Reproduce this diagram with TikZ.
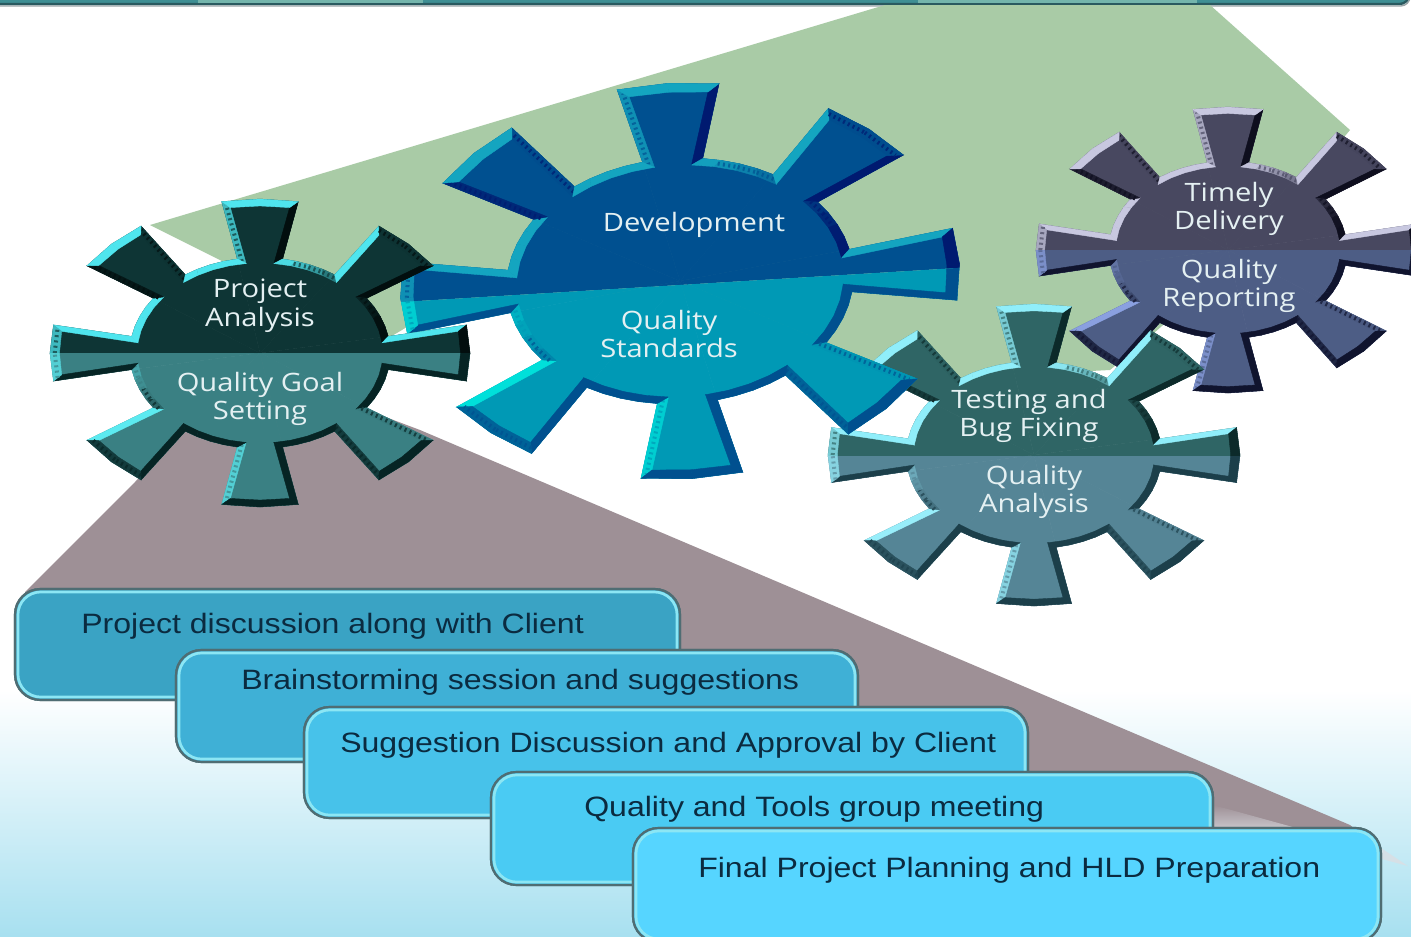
\documentclass[tikz,border=0pt]{standalone}
\usepackage{fontspec}
\usetikzlibrary{calc}
\setmainfont{Liberation Sans}
\newfontfamily\gearfont[FakeStretch=1.15]{Open Sans}
\newfontfamily\boxfont[FakeStretch=1.145]{Liberation Sans}
\definecolor{greenbg}{HTML}{A9CBA6}
\definecolor{graybg}{HTML}{9E9096}
\definecolor{graysoft}{HTML}{C9C6CC}
\definecolor{tailgray}{HTML}{D6E0E6}
\definecolor{skyb}{HTML}{A8E0F0}
\definecolor{barline}{HTML}{2A5A60}
\definecolor{barfill}{HTML}{3F8F94}
\definecolor{barhi}{HTML}{74B5AC}
\definecolor{barshadow}{HTML}{9AA5A8}
\definecolor{boxline}{HTML}{4F6D73}
\definecolor{boxlight}{HTML}{8CE6F4}
\definecolor{boxtext}{HTML}{0B2B40}
\definecolor{geartext}{HTML}{E4F0F2}
\definecolor{boxA}{HTML}{3AA3C4}
\definecolor{boxB}{HTML}{3FB0D6}
\definecolor{boxC}{HTML}{47C2EA}
\definecolor{boxD}{HTML}{4ACBF3}
\definecolor{boxE}{HTML}{56D5FF}
% gear colours: F face, L light bevel, D dark bevel; T top half, B bottom half
\definecolor{aFT}{HTML}{0E3535}\definecolor{aLT}{HTML}{4FE5EE}\definecolor{aDT}{HTML}{020E0E}
\definecolor{aFB}{HTML}{3A8083}\definecolor{aLB}{HTML}{5CEAF0}\definecolor{aDB}{HTML}{062424}
\definecolor{bFT}{HTML}{005090}\definecolor{bLT}{HTML}{14A5C0}\definecolor{bDT}{HTML}{001A70}
\definecolor{bFB}{HTML}{0099B5}\definecolor{bLB}{HTML}{00E0DA}\definecolor{bDB}{HTML}{00508F}
\definecolor{cFT}{HTML}{2F6565}\definecolor{cLT}{HTML}{90EEFA}\definecolor{cDT}{HTML}{0C2A2A}
\definecolor{cFB}{HTML}{558596}\definecolor{cLB}{HTML}{98EEFA}\definecolor{cDB}{HTML}{1C3F4A}
\definecolor{dFT}{HTML}{484860}\definecolor{dLT}{HTML}{C8C8E0}\definecolor{dDT}{HTML}{0E0E1E}
\definecolor{dFB}{HTML}{4D5D85}\definecolor{dLB}{HTML}{8AA0E0}\definecolor{dDB}{HTML}{10142E}
\tikzset{
  gearlabel/.style={text=geartext,align=center,inner sep=0pt,font=\gearfont\fontsize{19}{21.6}\selectfont},
  boxlabel/.style={text=boxtext,anchor=west,inner sep=0pt,font=\boxfont\fontsize{21}{23}\selectfont},
  boxouter/.style={draw=boxline,line width=1.6pt,rounded corners=19pt},
  boxinner/.style={draw=boxlight,line width=2pt,rounded corners=17pt},
}
\newcommand{\bq}[5]{%
  \pgfmathsetmacro\bevS{max(-1,min(1,2*(cos(#1-125)-0.2)))}%
  \ifdim\bevS pt<0pt
    \pgfmathsetmacro\bevP{-100*\bevS}\colorlet{bc}{gD!\bevP!gF}\colorlet{sc}{gD}%
  \else
    \pgfmathsetmacro\bevP{100*\bevS}\colorlet{bc}{gL!\bevP!gF}\colorlet{sc}{gF}%
  \fi
  \fill[bc,draw=bc,line width=.3pt] (#2)--(#3)--(#4)--(#5)--cycle;
  \pgfmathparse{abs(\bevS)<.85 ? 1 : 0}%
  \ifnum\pgfmathresult=1
    \draw[sc!70!bc,line width=3pt,dash pattern=on 1.5pt off 2.5pt]
      ($(#2)!.5!(#5)$)--($(#3)!.5!(#4)$);
  \fi}
\newcommand{\gearhalf}{%
  \foreach \k in {0,...,7}{%
    \pgfmathsetmacro\a{90-45*\k}%
    \fill[gF,draw=gF,line width=.3pt] (0,0)--(\a+10:.62)--(\a+10.5:1)--(\a:1)--(\a-10.5:1)--(\a-10:.62)
      --(\a-16.25:.62)--(\a-22.5:.62)--(\a-28.75:.62)--(\a-35:.62)--cycle;
  }%
  \foreach \k in {0,...,7}{%
    \pgfmathsetmacro\a{90-45*\k}%
    \bq{\a+90}{\a+10:.62}{\a+10.5:1}{\a+8.5:.955}{\a+6.5:.585}%
    \bq{\a-90}{\a-10:.62}{\a-10.5:1}{\a-8.5:.955}{\a-6.5:.585}%
    \bq{\a}{\a+10.5:1}{\a:1}{\a:.955}{\a+8.5:.955}%
    \bq{\a}{\a:1}{\a-10.5:1}{\a-8.5:.955}{\a:.955}%
    \foreach \j in {0,1,2,3}{%
      \pgfmathsetmacro\aA{\a-10-6.25*\j}\pgfmathsetmacro\aB{\aA-6.25}%
      \pgfmathsetmacro\iA{\a-6.5-8*\j}\pgfmathsetmacro\iB{\iA-8}%
      \bq{(\aA+\aB)/2}{\aA:.62}{\aB:.62}{\iB:.585}{\iA:.585}%
    }%
  }%
}
% #1 cx, #2 cy, #3 rx, #4 ry, #5 rotation, #6 colour prefix, #7 split height (local)
\newcommand{\gear}[7]{%
  \begin{scope}[shift={(#1,#2)},rotate=#5,x=#3*.75pt,y=#4*.75pt]
    \begin{scope}
      \clip (-1.2,#7) rectangle (1.2,1.2);
      \colorlet{gF}{#6FT}\colorlet{gL}{#6LT}\colorlet{gD}{#6DT}\gearhalf
    \end{scope}
    \begin{scope}
      \clip (-1.2,#7) rectangle (1.2,-1.2);
      \colorlet{gF}{#6FB}\colorlet{gL}{#6LB}\colorlet{gD}{#6DB}\gearhalf
    \end{scope}
  \end{scope}}
% #1 left, #2 top, #3 right, #4 bottom, #5 fill
\newcommand{\stepbox}[5]{%
  \fill[boxouter,fill=#5] (#1,#2) rectangle (#3,#4);
  \draw[boxouter] (#1,#2) rectangle (#3,#4);
  \draw[boxinner] (#1+3,#2+3) rectangle (#3-3,#4-3);}
\begin{document}
\begin{tikzpicture}[x=.75pt,y=-.75pt]
\useasboundingbox (0,0) rectangle (1411,936);
\clip (0,0) rectangle (1411,936);
\fill[white] (0,0) rectangle (1411,936);
\shade[top color=white,bottom color=skyb] (0,690) rectangle (1411,936);
% top bar
\draw[barshadow,line width=1pt,rounded corners=7pt] (-20,-30) rectangle (1410,6);
\fill[barfill,draw=barline,line width=1.8pt,rounded corners=7pt] (-20,-30) rectangle (1409,4);
\fill[barhi] (198,0) rectangle (423,2.5);
\fill[barhi] (918,0) rectangle (1197,2.5);
% fans
\fill[greenbg] (150,225)--(885,5)--(1210,5)--(1350,130)--(1250,250)--(1140,345)--(1110,370)--(920,380)--(860,360)--(700,300)--(450,300)--(402,330)--(385,340)--(300,300)--cycle;
\fill[graybg] (25,592)--(135,482)--(260,353)--(375,413)--(420,430)--(1350,825)--(1378,848)--(1200,835)--(25,620)--cycle;
\shade[top color=graybg,bottom color=graysoft] (1213,805)--(1300,829)--(1213,829)--cycle;
\fill[tailgray] (1378,846)--(1408,866)--(1378,858)--cycle;
% gears, back to front
\gear{1228}{250}{192}{143}{0}{d}{0}
\gear{1034}{455}{206}{151}{0}{c}{-0.012}
\gear{680}{281}{280}{198}{3.5}{b}{-0.02}
\gear{260}{353}{210}{154}{0}{a}{0}
\node[gearlabel] (ga1) at (260,306) {Project\\Analysis};
\node[gearlabel] (ga2) at (260,399) {Quality Goal\\Setting};
\node[gearlabel] (gb1) at (694,225) {Development};
\node[gearlabel] (gb2) at (669,334) {Quality\\Standards};
\node[gearlabel] (gc1) at (1029,416) {Testing and\\Bug Fixing};
\node[gearlabel] (gc2) at (1034,492) {Quality\\Analysis};
\node[gearlabel] (gd1) at (1229,209) {Timely\\Delivery};
\node[gearlabel] (gd2) at (1229,286) {Quality\\Reporting};
% stepped boxes
\stepbox{15}{589}{680}{700}{boxA}
\stepbox{176}{650}{858}{762}{boxB}
\stepbox{304}{707}{1028}{818}{boxC}
\stepbox{491}{772}{1213}{885}{boxD}
\stepbox{633}{828}{1381}{942}{boxE}
\node[boxlabel] (t1) at (81,626) {Project discussion along with Client};
\node[boxlabel] (t2) at (241,682) {Brainstorming session and suggestions};
\node[boxlabel] (t3) at (340,745) {Suggestion Discussion and Approval by Client};
\node[boxlabel] (t4) at (584,809) {Quality and Tools group meeting};
\node[boxlabel] (t5) at (698,870) {Final Project Planning and HLD Preparation};
\end{tikzpicture}
\end{document}
